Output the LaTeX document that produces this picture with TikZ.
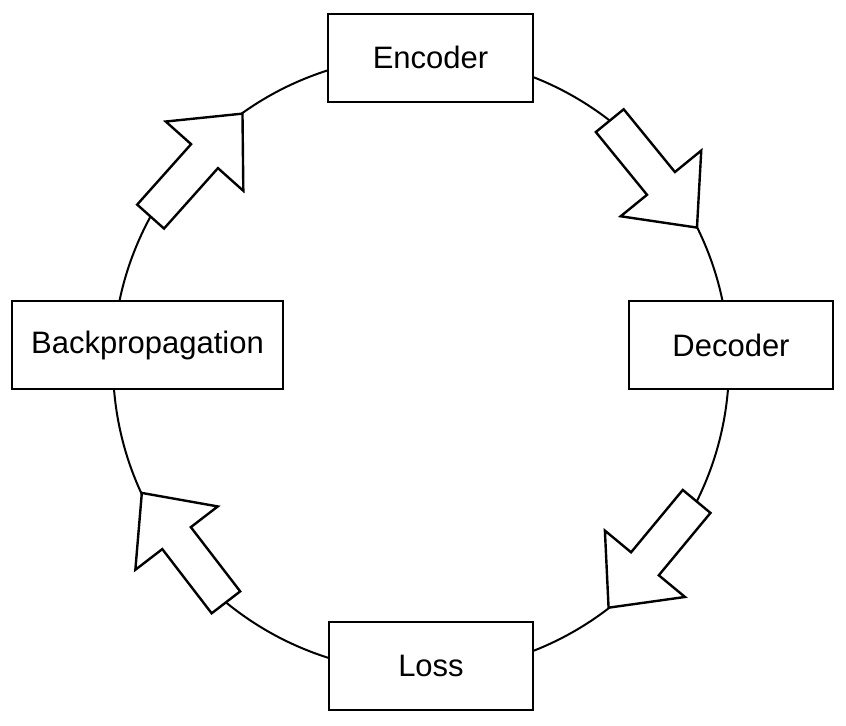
\documentclass[tikz,border=0pt]{standalone}
\usepackage{fontspec}
\setmainfont{Liberation Sans}
\usetikzlibrary{calc}
\begin{document}
\begin{tikzpicture}[x=0.5pt, y=0.5pt,
	stage/.style={draw, line width=1pt, fill=white, minimum width=102pt, minimum height=44pt, font=\fontsize{15.5}{18}\selectfont},
	blockarr/.style={draw, line width=1.2pt, fill=white, line join=miter}]
	\useasboundingbox (-421,-361) rectangle (425,364);
	\draw[line width=1pt] (0,0) circle (308);
	\node[stage] (enc) at (9.5,306.5) {Encoder};
	\node[stage] (dec) at (310,19) {Decoder};
	\node[stage] (loss) at (10,-302) {Loss};
	\node[stage, minimum width=135.5pt] (bp) at (-273.5,19) {Backpropagation};
	% block arrows along the cycle, tail angle / tip angle
	\foreach \a/\b in {52.2/26.2, -26.5/-52.8, 230.7/204.4, 151.4/125.1}{
		\pgfmathsetmacro\rot{(\a+\b)/2-90}
		\begin{scope}[shift={(\a:308)}, rotate=\rot]
			\draw[blockarr] (0,-18) -- (81,-18) -- (81,-52) -- (138,0) -- (81,52) -- (81,18) -- (0,18) -- cycle;
		\end{scope}}
\end{tikzpicture}
\end{document}
